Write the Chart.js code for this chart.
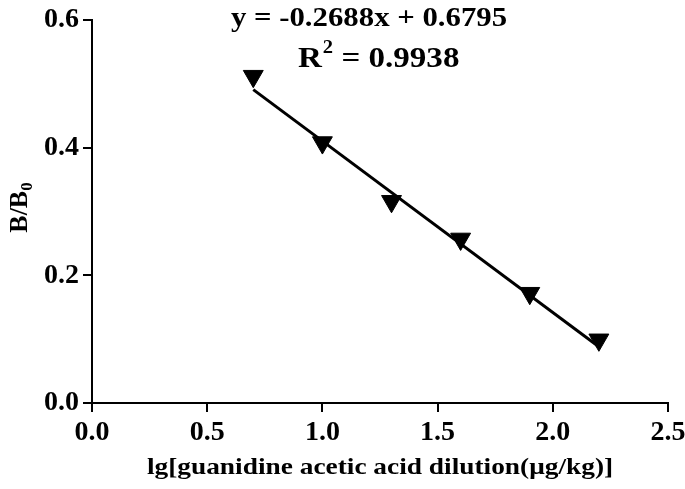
<!DOCTYPE html>
<html>
<head>
<meta charset="utf-8">
<script src="https://cdn.jsdelivr.net/npm/chart.js@4/dist/chart.umd.min.js"></script>
<style>
  html, body { margin: 0; padding: 0; background: #fff; }
  #wrap { width: 685px; height: 489px; }
</style>
</head>
<body>
<div id="wrap"><canvas id="calib"></canvas></div>
<script>
// values
var dilutionLg = [0.7, 1.0, 1.3, 1.6, 1.9, 2.2];
var ratioB = [0.512, 0.408, 0.316, 0.257, 0.172, 0.099];
var fitX = [0.7, 2.2];
var fitY = [0.491, 0.088];
var xTicks = [0.0, 0.5, 1.0, 1.5, 2.0, 2.5];
var yTicks = [0.0, 0.2, 0.4, 0.6];
var eqText = 'y = -0.2688x + 0.6795';
var r2Value = '0.9938';
var xTitle = 'lg[guanidine acetic acid dilution(μg/kg)]';

var serif = '"Liberation Serif", "Times New Roman", serif';
// the original figure is a bit stretched sideways
var stretch = 1.14;

// draw text with a horizontal stretch, x = left edge
function wideText(c, txt, x, y, font) {
  c.save();
  c.font = font;
  c.translate(x, y);
  c.scale(stretch, 1);
  c.textAlign = 'left';
  c.fillText(txt, 0, 0);
  var w = c.measureText(txt).width * stretch;
  c.restore();
  return w;
}
function textW(c, txt, font) {
  c.save();
  c.font = font;
  var w = c.measureText(txt).width * stretch;
  c.restore();
  return w;
}

var textPlugin = {
  id: 'extraText',
  afterDraw: function(chart) {
    var c = chart.ctx;
    var area = chart.chartArea;
    c.save();
    c.fillStyle = '#000';
    c.textBaseline = 'alphabetic';

    // regression equation
    var f1 = 'bold 27px ' + serif;
    var w = textW(c, eqText, f1);
    wideText(c, eqText, 369 - w / 2, 26, f1);

    // R squared with superscript
    var f2 = 'bold 29px ' + serif;
    var fs = 'bold 18px ' + serif;
    var x = 298;
    x += wideText(c, 'R', x, 67, f2);
    x += wideText(c, '2', x + 1, 53, fs) + 1;
    wideText(c, ' = ' + r2Value, x, 67, f2);

    // x axis title
    var f3 = 'bold 24px ' + serif;
    w = textW(c, xTitle, f3);
    wideText(c, xTitle, (area.left + area.right) / 2 - w / 2, 474, f3);

    // y axis title B/B0
    c.translate(27, (area.top + area.bottom) / 2 - 4);
    c.rotate(-Math.PI / 2);
    c.font = 'bold 26px ' + serif;
    var w1 = c.measureText('B/B').width;
    c.font = 'bold 17px ' + serif;
    var w2 = c.measureText('0').width;
    var sx = -(w1 + w2) / 2;
    c.font = 'bold 26px ' + serif;
    c.fillText('B/B', sx, 0);
    c.font = 'bold 17px ' + serif;
    c.fillText('0', sx + w1, 5);
    c.restore();
  }
};

new Chart(document.getElementById('calib'), {
  type: 'scatter',
  data: {
    datasets: [
      {
        label: 'B/B0',
        data: dilutionLg.map(function(v, i) { return {x: v, y: ratioB[i]}; }),
        pointStyle: 'triangle',
        rotation: 180,
        pointRadius: 11.5,
        pointHoverRadius: 11.5,
        backgroundColor: '#000',
        borderColor: '#000',
        borderWidth: 1
      },
      {
        type: 'line',
        label: 'fit',
        data: fitX.map(function(v, i) { return {x: v, y: fitY[i]}; }),
        borderColor: '#000',
        borderWidth: 3,
        pointRadius: 0,
        fill: false
      }
    ]
  },
  options: {
    responsive: true,
    maintainAspectRatio: false,
    animation: false,
    events: [],
    layout: { padding: { top: 20, right: 17, left: 0, bottom: 0 } },
    plugins: {
      legend: { display: false },
      tooltip: { enabled: false }
    },
    scales: {
      x: {
        type: 'linear',
        min: 0,
        max: 2.5,
        afterBuildTicks: function(s) { s.ticks = xTicks.map(function(v) { return {value: v}; }); },
        afterFit: function(s) { s.height = 86; s.paddingLeft = 0; s.paddingRight = 0; },
        border: { display: true, color: '#000', width: 2 },
        grid: { drawOnChartArea: false, color: '#000', lineWidth: 2, tickLength: 9 },
        ticks: {
          color: '#000',
          padding: 4,
          maxRotation: 0,
          font: { family: serif, size: 28, weight: 'bold' },
          callback: function(v) { return Number(v).toFixed(1); }
        }
      },
      y: {
        type: 'linear',
        min: 0,
        max: 0.6,
        afterBuildTicks: function(s) { s.ticks = yTicks.map(function(v) { return {value: v}; }); },
        afterFit: function(s) { s.width = 92; s.paddingTop = 0; s.paddingBottom = 0; },
        border: { display: true, color: '#000', width: 2 },
        grid: { drawOnChartArea: false, color: '#000', lineWidth: 2, tickLength: 9 },
        ticks: {
          color: '#000',
          padding: 4,
          font: { family: serif, size: 28, weight: 'bold' },
          callback: function(v) { return Number(v).toFixed(1); }
        }
      }
    }
  },
  plugins: [textPlugin]
});
</script>
</body>
</html>
